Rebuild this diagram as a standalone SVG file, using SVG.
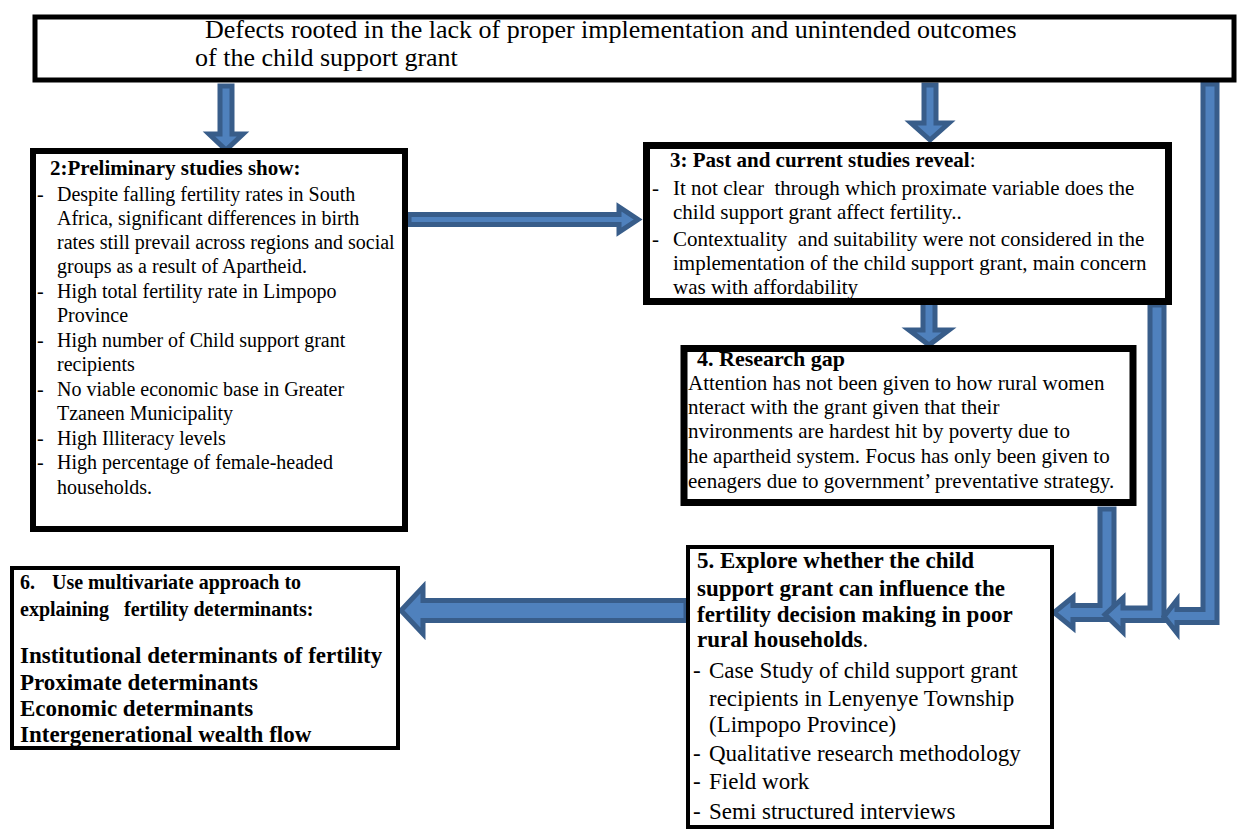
<svg xmlns="http://www.w3.org/2000/svg" width="1240" height="829" viewBox="0 0 1240 829">
<style>
text{font-family:"Liberation Serif","Times New Roman",serif;fill:#000}
.box{fill:#fff;stroke:#000}
.arr{fill:#4F81BD;stroke:#385D8A;stroke-width:5;stroke-linejoin:miter}
.b{font-weight:bold}
.t20{font-size:20px}
.t21{font-size:21px}
.t23{font-size:23px}
</style>
<rect width="1240" height="829" fill="#fff"/>
<g id="connectors">
<polygon class="arr" points="220,86 232,86 232,134 243,134 226,150 209,134 220,134"/>
<polygon class="arr" points="924,85 936,85 936,123 949,123 930,140 911,123 924,123"/>
<polygon class="arr" points="409,214.5 619,214.5 619,207 638,219.5 619,232 619,224.5 409,224.5"/>
<polygon class="arr" points="923,300 935,300 935,330 949,330 929,345 909,330 923,330"/>
<polygon class="arr" points="1100,509 1114,509 1114,619.5 1073,619.5 1073,628 1054,612.5 1073,597 1073,605.5 1100,605.5"/>
<polygon class="arr" points="1150,305 1164,305 1164,620.5 1123,620.5 1123,632 1105,614.5 1123,598 1123,608 1150,608"/>
<polygon class="arr" points="1203,84 1217,84 1217,622.5 1177,622.5 1177,633 1164,616.5 1177,600 1177,609.5 1203,609.5"/>
<polygon class="arr" points="686,600.5 423,600.5 423,587 401,610.5 423,634 423,620.5 686,620.5"/>
</g>
<g id="node1">
<rect class="box" x="35" y="17" width="1199" height="63" stroke-width="5"/>
<text x="205" y="38" font-size="26">Defects rooted in the lack of proper implementation and unintended outcomes</text>
<text x="195" y="66" font-size="26">of the child support grant</text>
</g>
<g id="node2">
<rect class="box" x="33" y="151" width="372" height="378" stroke-width="6"/>
<text x="50" y="175" class="b t21">2:Preliminary studies show:</text>
<g class="t20">
<text x="37" y="201">-</text><text x="57" y="201">Despite falling fertility rates in South</text>
<text x="57" y="225">Africa, significant differences in birth</text>
<text x="57" y="249">rates still prevail across regions and social</text>
<text x="57" y="273">groups as a result of Apartheid.</text>
<text x="37" y="298">-</text><text x="57" y="298">High total fertility rate in Limpopo</text>
<text x="57" y="322">Province</text>
<text x="37" y="347">-</text><text x="57" y="347">High number of Child support grant</text>
<text x="57" y="371">recipients</text>
<text x="37" y="396">-</text><text x="57" y="396">No viable economic base in Greater</text>
<text x="57" y="420">Tzaneen Municipality</text>
<text x="37" y="445">-</text><text x="57" y="445">High Illiteracy levels</text>
<text x="37" y="469">-</text><text x="57" y="469">High percentage of female-headed</text>
<text x="57" y="494">households.</text>
</g>
</g>
<g id="node3">
<rect class="box" x="646.5" y="145.5" width="522" height="156" stroke-width="7"/>
<text x="670" y="167" class="t21"><tspan class="b">3: Past and current studies reveal</tspan>:</text>
<g class="t21">
<text x="652" y="195">-</text><text x="673" y="195" xml:space="preserve">It not clear  through which proximate variable does the</text>
<text x="673" y="219">child support grant affect fertility..</text>
<text x="652" y="246">-</text><text x="673" y="246" xml:space="preserve">Contextuality  and suitability were not considered in the</text>
<text x="673" y="270">implementation of the child support grant, main concern</text>
<text x="673" y="294">was with affordability</text>
</g>
</g>
<g id="node4">
<rect class="box" x="684" y="348.5" width="449" height="154" stroke-width="7"/>
<text x="697" y="366" font-size="22" class="b">4. Research gap</text>
<g class="t21">
<text x="688" y="390">Attention has not been given to how rural women</text>
<text x="688" y="414">nteract with the grant given that their</text>
<text x="688" y="438">nvironments are hardest hit by poverty due to</text>
<text x="688" y="463">he apartheid system. Focus has only been given to</text>
<text x="688" y="488">eenagers due to government’ preventative strategy.</text>
</g>
</g>
<g id="node5">
<rect class="box" x="688" y="547" width="364" height="280" stroke-width="4"/>
<g class="t23">
<text x="697" y="568" class="b">5. Explore whether the child</text>
<text x="697" y="596" class="b">support grant can influence the</text>
<text x="697" y="622" class="b">fertility decision making in poor</text>
<text x="697" y="647"><tspan class="b">rural households</tspan>.</text>
<text x="693" y="678">-</text><text x="709" y="678">Case Study of child support grant</text>
<text x="709" y="706">recipients in Lenyenye Township</text>
<text x="709" y="732">(Limpopo Province)</text>
<text x="693" y="761">-</text><text x="709" y="761">Qualitative research methodology</text>
<text x="693" y="789">-</text><text x="709" y="789">Field work</text>
<text x="693" y="819">-</text><text x="709" y="819">Semi structured interviews</text>
</g>
</g>
<g id="node6">
<rect class="box" x="12" y="568" width="386" height="180" stroke-width="4"/>
<g font-size="20" class="b">
<text x="20" y="589">6.</text><text x="52" y="589">Use multivariate approach to</text>
<text x="20" y="616">explaining</text><text x="124" y="616">fertility determinants:</text>
</g>
<g class="b t23">
<text x="20" y="663">Institutional determinants of fertility</text>
<text x="20" y="690">Proximate determinants</text>
<text x="20" y="716">Economic determinants</text>
<text x="20" y="742">Intergenerational wealth flow</text>
</g>
</g>
</svg>
